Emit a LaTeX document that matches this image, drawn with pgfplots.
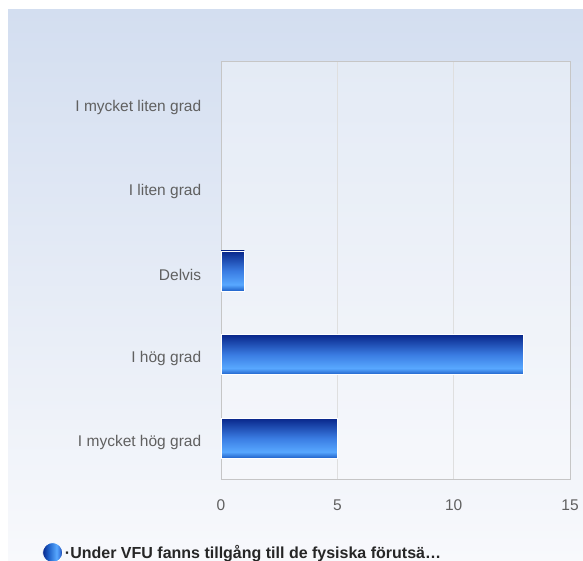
\documentclass[border=0pt]{standalone}
\usepackage{pgfplots}
\pgfplotsset{compat=1.18}
\usepackage{fontspec}
\setmainfont{Liberation Sans}
\definecolor{bgtop}{HTML}{D3DEF0}
\definecolor{bgbot}{HTML}{F8F9FC}
\definecolor{bt}{HTML}{08268A}
\definecolor{bm}{HTML}{3A7CE2}
\definecolor{bl}{HTML}{58A8FF}
\definecolor{bb}{HTML}{1E60C8}
\definecolor{labgray}{HTML}{606060}
\pgfdeclareverticalshading{barshade}{100bp}{color(0bp)=(bb); color(25bp)=(bb); color(33bp)=(bl); color(50bp)=(bm); color(75bp)=(bt); color(100bp)=(bt)}
\pgfdeclarehorizontalshading{dotshade}{100bp}{color(0bp)=(bt); color(25bp)=(bt); color(40bp)=(bb); color(60bp)=(bl); color(68bp)=(bm); color(75bp)=(bt); color(100bp)=(bt)}
\begin{document}
\begin{tikzpicture}
\useasboundingbox (0pt,0pt) rectangle (583pt,561pt);
\clip (0pt,0pt) rectangle (583pt,561pt);
\shade[top color=bgtop, bottom color=bgbot] (8pt,0pt) rectangle (583pt,551pt);
\begin{axis}[
  at={(221pt,81pt)}, anchor=south west,
  scale only axis, width=349pt, height=418pt,
  xbar, bar width=40pt, bar shift=0pt,
  xmin=0, xmax=15, ymin=-0.5, ymax=4.5,
  xtick={0,5,10,15},
  ytick={0,1,2,3,4},
  yticklabels={I mycket hög grad, I hög grad, Delvis, I liten grad, I mycket liten grad},
  tick style={draw=none},
  xmajorgrids, grid style={draw=gray!25, line width=1pt},
  axis line style={draw=gray!45, line width=1pt},
  ticklabel style={font=\fontsize{15.5}{17}\selectfont, text=labgray},
  xticklabel style={yshift=-16pt},
  yticklabel style={xshift=-12pt, yshift=-4pt},
  /pgf/number format/assume math mode=true,
  axis background/.style={fill=white, fill opacity=0.35},
  legend style={at={(-182pt,-60pt)}, anchor=north west, draw=none, fill=none, font=\bfseries\fontsize{16}{18}\selectfont, text=black!85},
  legend cell align=left,
]
\addplot[shading=barshade, draw=white, line width=0.8pt, legend image code/.code={
  \shade[shading=dotshade] (8pt,0pt) circle (10pt);}]
  coordinates {(5,0)};
\addlegendentry{·Under VFU fanns tillgång till de fysiska förutsä…}
\addplot[forget plot, shading=barshade, draw=white, line width=0.8pt] coordinates {(13,1)};
\addplot[forget plot, shading=barshade, draw=white, line width=0.8pt] coordinates {(1,2)};
\end{axis}
\end{tikzpicture}
\end{document}
